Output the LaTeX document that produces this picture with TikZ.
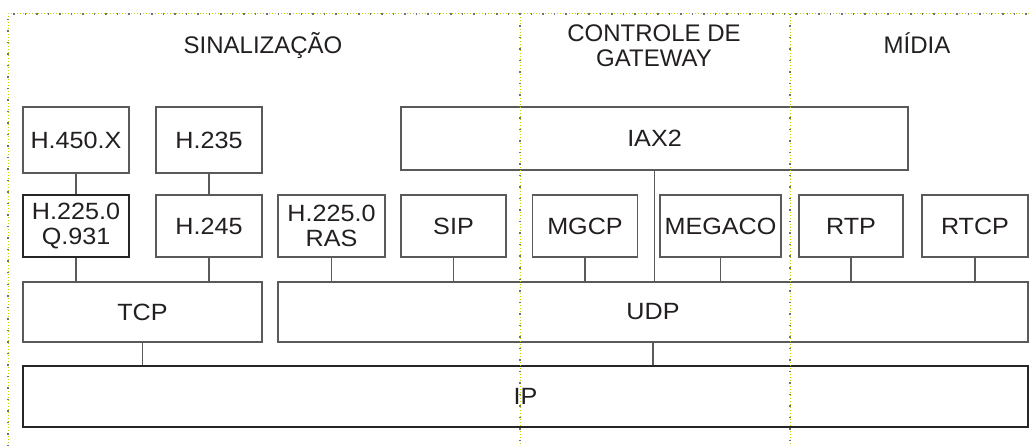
\documentclass[tikz,border=0pt]{standalone}
\usepackage{fontspec}
\setmainfont{Liberation Sans}
\newfontfamily\boxfont[FakeStretch=1.07]{Liberation Sans}
\definecolor{txt}{HTML}{231F20}
\definecolor{edge}{HTML}{5A5A5A}
\definecolor{guide}{HTML}{C4D600}
\definecolor{guidedot}{HTML}{707070}
\begin{document}
\begin{tikzpicture}[x=1pt,y=-1pt,
  box/.style={draw=edge, line width=1.2pt, inner sep=0pt, text=txt, align=center,
    font=\boxfont\fontsize{23.5}{25}\selectfont},
  link/.style={draw=edge, line width=1.2pt},
  title/.style={text=txt, font=\fontsize{24}{25}\selectfont, anchor=base, inner sep=0pt},
  guideline/.style={draw=guide, line width=1pt, dash pattern=on 1pt off 2pt},
  guidemark/.style={draw=guidedot, line width=1.2pt, dash pattern=on 1.5pt off 10pt}]
\useasboundingbox (0,0) rectangle (1030,446);
\fill[white] (0,0) rectangle (1030,446);

% titles
\node[title] (tsig) at (263,54) {SINALIZAÇÃO};
\node[title] (tgw1) at (654,42) {CONTROLE DE};
\node[title] (tgw2) at (654,67) {GATEWAY};
\node[title] (tmid) at (917,54) {MÍDIA};

% top row
\node[box, minimum width=106, minimum height=66] (h450) at (76,140) {H.450.X};
\node[box, minimum width=106, minimum height=66] (h235) at (209,140) {H.235};
\node[box, minimum width=507, minimum height=63] (iax2) at (654.5,138.5) {IAX2};

% middle row
\node[box, draw=black!85, minimum width=106, minimum height=62] (q931) at (76,226) {H.225.0\\Q.931};
\node[box, minimum width=106, minimum height=62] (h245) at (209,226) {H.245};
\node[box, minimum width=107, minimum height=62] (ras) at (331.5,226) {H.225.0\\RAS};
\node[box, minimum width=105, minimum height=62] (sip) at (453.5,226) {SIP};
\node[box, minimum width=105, minimum height=62] (mgcp) at (585,226) {MGCP};
\node[box, minimum width=121, minimum height=62] (megaco) at (720.5,226) {MEGACO};
\node[box, minimum width=104, minimum height=62] (rtp) at (851,226) {RTP};
\node[box, minimum width=106, minimum height=62] (rtcp) at (975,226) {RTCP};

% transport
\node[box, minimum width=239, minimum height=60] (tcp) at (142.5,312) {TCP};
\node[box, minimum width=750, minimum height=60] (udp) at (653,312) {UDP};

% network
\node[box, draw=black!85, minimum width=1005, minimum height=61] (ip) at (525.5,396.5) {IP};

% connectors
\draw[link] (h450.south) -- (q931.north);
\draw[link] (h235.south) -- (h245.north);
\draw[link] (q931.south) -- (q931.south |- tcp.north);
\draw[link] (h245.south) -- (h245.south |- tcp.north);
\draw[link] (ras.south) -- (ras.south |- udp.north);
\draw[link] (sip.south) -- (sip.south |- udp.north);
\draw[link] (mgcp.south) -- (mgcp.south |- udp.north);
\draw[link] (iax2.south) -- (iax2.south |- udp.north);
\draw[link] (megaco.south) -- (megaco.south |- udp.north);
\draw[link] (rtp.south) -- (rtp.south |- udp.north);
\draw[link] (rtcp.south) -- (rtcp.south |- udp.north);
\draw[link] (tcp.south) -- (tcp.south |- ip.north);
\draw[link] (udp.south) -- (udp.south |- ip.north);

% region guides
\coordinate (gbl) at (8,446);
\coordinate (gtl) at (8,14);
\coordinate (gtr) at (1030,14);
\coordinate (g1t) at (520,14);
\coordinate (g1b) at (520,446);
\coordinate (g2t) at (790,14);
\coordinate (g2b) at (790,446);
\foreach \s in {guideline, guidemark} {
  \draw[\s] (gbl) -- (gtl) -- (gtr);
  \draw[\s] (g1t) -- (g1b);
  \draw[\s] (g2t) -- (g2b);
}
\end{tikzpicture}
\end{document}
